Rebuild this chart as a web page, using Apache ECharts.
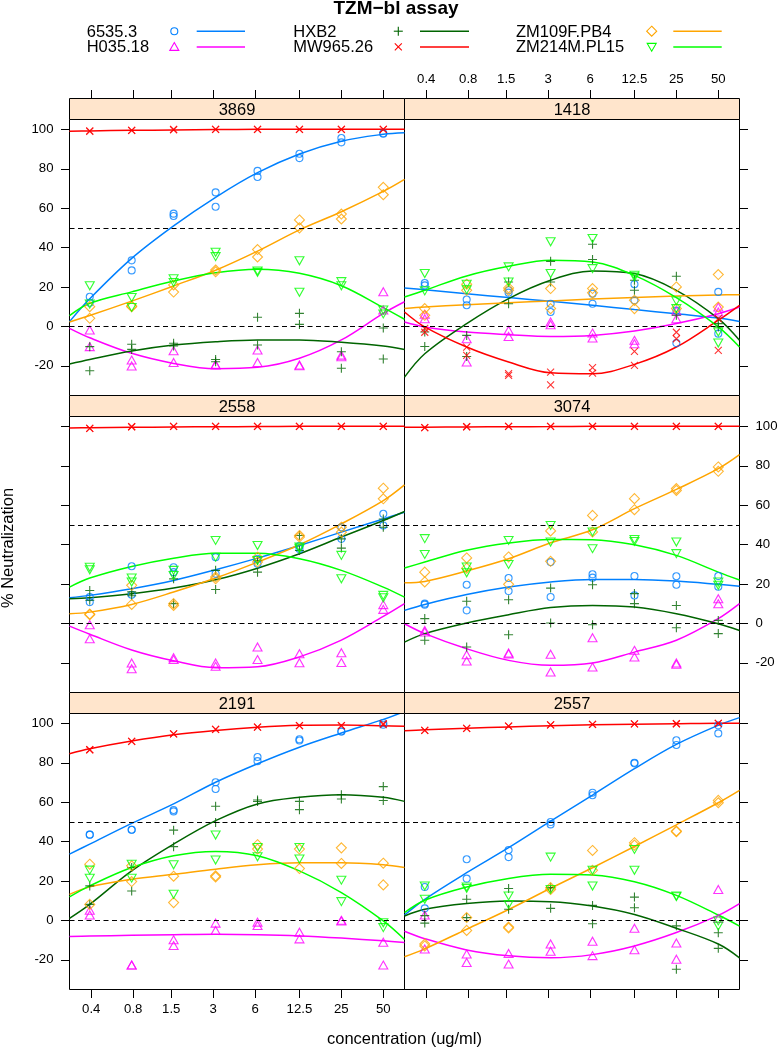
<!DOCTYPE html>
<html><head><meta charset="utf-8">
<script src="https://cdn.jsdelivr.net/npm/echarts@6/dist/echarts.min.js"></script>
<style>html,body{margin:0;padding:0;background:#fff}#c{width:779px;height:1048px}</style>
</head><body><div id="c"></div>
<script>
// ---------------- data ----------------
const viruses = ['6535.3', 'H035.18', 'HXB2', 'MW965.26', 'ZM109F.PB4', 'ZM214M.PL15'];
const panels = ['3869', '1418', '2558', '3074', '2191', '2557'];
const conc = [0.39, 0.78, 1.56, 3.125, 6.25, 12.5, 25, 50];
const fitConc = [0.279, 0.39, 0.78, 1.56, 3.125, 6.25, 12.5, 25, 50, 71];
const xTicks = [0.4, 0.8, 1.5, 3, 6, 12.5, 25, 50];
const yTicks = [-20, 0, 20, 40, 60, 80, 100];
const refLines = [0, 50];

// observed % neutralization: one row per virus (order of `viruses`), replicate pairs per concentration
const obs3869 = [
  [[15,12],[33.5,28.4],[57.2,56],[68,60.7],[78.9,75.8],[87.6,85.4],[95.6,93.4],[97.8,98]],
  [[-1.9,-10.3],[-17.1,-20.1],[-12.4,-18.3],[-19.3,-19.6],[-12,-18.3],[-19.6,-20],[-14.6,-15.4],[17.6,8.3]],
  [[-10.3,-22.5],[-9.1,-11.7],[-8.6,-10],[-16.8,-18],[4.6,-9.5],[6.6,1],[-12.9,-21.3],[-0.8,-16.6]],
  [[99.2,99],[99.5,99.5],[99.8,100],[100,100],[100,100],[100,100],[100,100],[100,100]],
  [[4.1,10],[10.3,10],[21,17.4],[28.6,27.7],[39,35.2],[54,50],[57,54.5],[70.6,66.8]],
  [[20.6,11.3],[14.6,9.6],[24.2,22.3],[37.6,35.4],[28.1,27.4],[33.3,17.3],[22.7,20.6],[8.3,6.3]]
];
const obs1418 = [
  [[22,20.8],[13.6,10.7],[18.3,17.1],[11.5,7.3],[16.6,11.5],[21.4,13.2],[8,-8.5],[17.5,-3.7]],
  [[6.1,3.9],[-6.3,-18.1],[-2,-5.1],[2.2,0.8],[-3.4,-5.9],[-7.1,-8.8],[7.8,3.9],[9.8,7.3]],
  [[-2.9,-10.2],[-4.6,-15.3],[22.5,11.5],[33,22.5],[41.7,33.9],[23.4,18.3],[25.4,5.6],[1.4,-0.3]],
  [[-1,-3],[-10.5,-14.7],[-24,-24.9],[-23.2,-29.7],[-21,-23.7],[-12.7,-19.8],[-3,-6.3],[3.9,-12.2]],
  [[9,5.6],[21.4,18.3],[19.5,18.3],[19.2,9],[19.2,17],[13.2,9],[20,9],[26.3,9.8]],
  [[26.8,18],[21.4,18.6],[30.2,22.5],[42.9,26.8],[44.6,29.3],[25.9,25.1],[12.9,9],[-2.9,-8.5]]
];
const obs2558 = [
  [[13.3,10.8],[29,14.5],[28.5,26],[33.6,25.2],[32.8,30.2],[39.2,37.8],[48.8,42.9],[55.6,49.7]],
  [[-0.7,-7.8],[-20.1,-23],[-17.4,-18.4],[-20.1,-21.8],[-12,-18.4],[-15.4,-20],[-14.9,-19.9],[9.5,7.1]],
  [[16.7,11.7],[16,14],[22.6,10],[26.9,17.2],[31.9,26],[44.6,37],[42.9,38.2],[53,48.8]],
  [[99,99],[99.8,99.8],[100,100],[100,100],[100,100],[100,100],[100,100],[100,100]],
  [[4.7,4.4],[19.3,9.6],[10,9.1],[23.5,22.6],[33.6,31.1],[44.6,43.8],[48.8,46.3],[68.6,63.2]],
  [[28.5,27.2],[23,21],[26.9,24.3],[42.1,33.6],[39.5,31.9],[38.7,37.8],[34.5,22.6],[14.2,13]]
];
const obs3074 = [
  [[10,9.5],[19.6,6.6],[23,16.4],[31.1,13.4],[24.9,23.2],[24,14.2],[23.9,19.6],[24,18.6]],
  [[-3.6,-4.4],[-15.9,-19.1],[-15,-15.5],[-15.7,-24.7],[-7.3,-22.2],[-13.7,-17.1],[-20.1,-20.8],[12.5,10]],
  [[2.4,-8.6],[11.2,-12],[12,-5.8],[17.9,0.2],[19.6,-0.7],[15.1,10],[9.1,-2.2],[1.5,-5.2]],
  [[99.3,99.3],[99.8,99.8],[100,100],[100,100],[100,100],[100,100],[100,100],[100,100]],
  [[26,21],[33.2,28],[33.7,19.8],[46.9,31.5],[54.8,46.4],[63.3,57.7],[68.4,67.5],[79.4,77.2]],
  [[43,35],[28.6,25.7],[42.1,29.9],[49.7,41.3],[46.4,37.9],[42.6,41.6],[41.3,35.4],[21,19.3]]
];
const obs2191 = [
  [[43.5,43.5],[46,46],[56,55.3],[70.1,66.7],[82.9,80.8],[91.9,91.3],[95.9,95.9],[100.2,99.3]],
  [[5.1,2.7],[-22.7,-22.7],[-9.9,-12.8],[-1.4,-5.1],[-0.9,-2.6],[-6,-9.4],[0,-0.3],[-11.1,-22.7]],
  [[8.1,17.5],[14.9,26.8],[45.8,37.4],[57.9,49.7],[61.1,60.3],[60.4,56.2],[63.8,61.6],[67.9,60.8]],
  [[86.6,86.6],[90.8,90.8],[94.7,94.7],[96.9,96.9],[98.1,98.1],[98.8,98.8],[98.8,98.8],[99.8,99.3]],
  [[28.5,8.1],[27.7,19.7],[22.4,9],[22.6,22],[38.4,36.2],[36.2,26.3],[36.8,28.9],[29,18]],
  [[25.5,21.4],[28.5,21.4],[28.2,13.2],[43.3,30.6],[37,32.3],[37,31.1],[20.4,9.5],[-1.2,-3.7]]
];
const obs2557 = [
  [[16.9,6.1],[31,21.2],[35.7,32.1],[49.9,48.7],[64.8,63.5],[80,79.7],[91.4,89],[94.9,99]],
  [[2.7,-14.5],[-17.1,-21.4],[-16.8,-22.2],[-12,-15.7],[-10.6,-17.9],[-4,-14.9],[-11.5,-19.7],[15.7,0.9]],
  [[2.4,-1.4],[10.7,1.4],[16.2,5.6],[16.6,6.1],[7.6,-1.7],[11.8,6.4],[-2.8,-24.8],[-6.3,-14.2]],
  [[96.4,96.4],[97.5,97.5],[98.6,98.6],[99.2,99.2],[99.5,99.5],[99.7,99.7],[99.8,99.8],[100,100]],
  [[-12,-13],[1.4,-5.1],[-3.4,-3.9],[16.6,15.7],[35.5,25.4],[39.4,38.2],[45.3,45],[60.9,59.7]],
  [[17.4,10.7],[16.9,16.2],[12.4,8.1],[32.1,15.7],[25.4,17.4],[36,25.4],[12.4,12],[-0.3,-2.9]]
];

// fitted curves read at fitConc: one row per virus
const fit3869 = [
  [2.4,14,34.5,51,65.5,78,87.5,94,97.5,98.3],
  [-1,-5.8,-13.7,-18.8,-21.5,-20.8,-16.2,-6.9,6.6,12.5],
  [-19.1,-16.8,-12.5,-9.5,-7.8,-6.9,-6.9,-8.1,-10,-11.7],
  [99,99.2,99.5,99.7,99.9,100,100,100,100,100],
  [2.2,5.5,12.8,20.5,28.5,38.2,49,58.2,68.5,74.6],
  [5.4,11.7,17.5,23,27.2,29,26.9,20.6,9.5,3.6]
];
const fit1418 = [
  [19.5,18.6,16.6,14.6,12.7,10.7,8.5,6.4,4.2,2.5],
  [2.2,-0.3,-2.9,-4.2,-5.1,-4.6,-2.4,1.4,6.4,9.8],
  [-25.8,-13.9,1.4,14.1,23.4,28.1,26.8,18.3,3.9,-7.1],
  [7.3,-0.3,-10.5,-18.1,-23.6,-24.1,-19.3,-10.5,3.1,10.7],
  [9,9.8,11,12,12.9,13.9,14.7,15.4,15.9,16.1],
  [14.9,18.3,25.6,30.5,33.6,32.7,25.9,14.6,-0.3,-10.5]
];
const fit2558 = [
  [13,14.2,17.6,21.8,27.2,33.1,39.5,46.3,53,56.4],
  [-1.4,-5.5,-13.5,-19,-22.5,-22,-17,-8.5,3.5,10],
  [12.5,13,15,17.9,22.1,28,35.3,43.8,52.2,56.8],
  [99.2,99.3,99.5,99.7,99.8,99.9,100,100,100,100],
  [4.9,5.7,9.6,15.9,23,31.1,39.9,50.5,62.3,70.3],
  [18.4,23,28.9,33.1,35.6,35.6,32.8,26.9,18.4,13.3]
];
const fit3074 = [
  [6.6,9.6,14.6,18.4,21,22.3,22.3,21.5,19.8,18.8],
  [-0.2,-5.2,-12.9,-18.8,-21.3,-20.1,-14.6,-8.6,2.4,10],
  [-9.5,-5.2,0.2,4.4,8,9.1,8.3,4.9,-0.2,-3.6],
  [99.5,99.6,99.7,99.8,99.9,100,100,100,100,100],
  [20.6,21.3,26.6,32.8,40.9,47.5,58.2,68,78.5,85.6],
  [28.1,31.1,37.1,40.8,42.6,42.5,39.9,34.5,26,22]
];
const fit2191 = [
  [33.6,38.7,49.2,59.1,70.1,79.5,87.9,95.1,102,106],
  [-8.2,-8,-7.6,-7.3,-7.1,-7.3,-7.9,-9,-10.4,-11.2],
  [1,8.1,25.1,38.7,50.6,59.1,62.5,63.8,62.5,60.4],
  [84.6,87.1,91,94.2,96.4,98,99,99.2,98.8,98.5],
  [13.2,17,20.9,23.4,26,28.2,29.2,29.2,28.2,26.8],
  [11.9,17.5,26.8,32.8,35,32.8,25.1,14.1,-0.3,-9.7]
];
const fit2557 = [
  [2.7,10.7,24.2,36.9,50.4,63.6,77,89.3,99,102.9],
  [-5.5,-9.3,-15,-18,-19,-17.4,-13,-6.2,2.5,8.5],
  [2.2,5.6,8.5,9.8,9.5,7.3,3,-4,-12,-19],
  [96.3,96.8,97.5,98.2,98.8,99.3,99.6,99.8,100,100],
  [-18.5,-14.5,-4.5,5.5,16.3,26.7,37.5,48.5,59.7,66],
  [3.9,10.2,16.9,21.3,23.4,23,19.6,12.7,2.7,-2.9]
];

const panelObs = [obs3869, obs1418, obs2558, obs3074, obs2191, obs2557];
const panelFit = [fit3869, fit1418, fit2558, fit3074, fit2191, fit2557];

// ---------------- style / layout ----------------
const FONT = '"Liberation Sans", Arial, Helvetica, sans-serif';
const colors = ['#0080ff', '#ff00ff', '#006400', '#ff0000', '#ffa500', '#00ff00'];
const symbols = [
  'circle',
  'path://M5,0L10,8.66L0,8.66Z',
  'path://M5,0L5,10M0,5L10,5',
  'path://M0,0L10,10M0,10L10,0',
  'path://M5,0L10,5L5,10L0,5Z',
  'path://M0,0L10,0L5,8.66Z'
];
const symSizes = [7, [9, 8], 9, 7, 10, [9, 8]];
const colLeft = [69.5, 404.5], colW = 335;
const rowTop = [98.5, 395.5, 692.5], stripH = 21, panelH = 276;
const xMin = 0.279, xMax = 71, yMin = -35.1, yMax = 105;

const grids = [], xAxes = [], yAxes = [], series = [], graphics = [];

panels.forEach((name, k) => {
  const r = Math.floor(k / 2), c = k % 2;
  const left = colLeft[c], top = rowTop[r] + stripH;
  grids.push({left: left, top: top, width: colW, height: panelH, show: true,
    borderColor: '#000', borderWidth: 1, backgroundColor: 'transparent',
    containLabel: false, outerBoundsMode: 'none'});
  const xLabels = (r === 0 && c === 1) || (r === 2 && c === 0);
  xAxes.push({gridIndex: k, type: 'log', logBase: 2, min: xMin, max: xMax,
    show: r !== 1, position: r === 0 ? 'top' : 'bottom', offset: r === 0 ? stripH : 0,
    axisLine: {show: false, onZero: false}, splitLine: {show: false}, minorTick: {show: false},
    axisTick: {show: true, inside: false, length: 8.5, customValues: xTicks, lineStyle: {color: '#000', width: 1}},
    axisLabel: {show: xLabels, customValues: xTicks, margin: 13, fontSize: 13.2, fontFamily: FONT, color: '#000',
      formatter: v => String(Math.round(v * 10) / 10)}
  });
  const yLabels = r === 1 ? c === 1 : c === 0;
  yAxes.push({gridIndex: k, type: 'value', min: yMin, max: yMax,
    position: c === 0 ? 'left' : 'right',
    axisLine: {show: false, onZero: false}, splitLine: {show: false},
    axisTick: {show: true, inside: false, length: 8.5, customValues: yTicks, lineStyle: {color: '#000', width: 1}},
    axisLabel: {show: yLabels, customValues: yTicks, margin: 16, fontSize: 13.2, fontFamily: FONT, color: '#000'}
  });
  // strip
  graphics.push({type: 'rect', shape: {x: left, y: rowTop[r], width: colW, height: stripH},
    style: {fill: '#ffe5cc', stroke: '#000', lineWidth: 1}, z: 5});
  graphics.push({type: 'text', x: left + colW / 2, y: rowTop[r] + stripH / 2 + 1,
    style: {text: name, fontSize: 16.5, fontFamily: FONT, fill: '#000', align: 'center', verticalAlign: 'middle'}, z: 6});
  // reference lines
  series.push({type: 'line', xAxisIndex: k, yAxisIndex: k, data: [], silent: true, z: 1,
    markLine: {silent: true, symbol: ['none', 'none'], label: {show: false}, animation: false,
      lineStyle: {type: [5, 3.5], color: '#000', width: 1},
      data: refLines.map(v => ({yAxis: v}))}});
  viruses.forEach((vname, v) => {
    const pts = [];
    panelObs[k][v].forEach((pair, i) => pair.forEach(y => pts.push([conc[i], y])));
    series.push({type: 'scatter', name: vname, xAxisIndex: k, yAxisIndex: k, data: pts,
      symbol: symbols[v], symbolSize: symSizes[v], silent: true, z: 3,
      itemStyle: {color: 'rgba(0,0,0,0)', borderColor: colors[v], borderWidth: 1.1}});
    series.push({type: 'line', name: vname, xAxisIndex: k, yAxisIndex: k,
      data: panelFit[k][v].map((y, j) => [fitConc[j], y]),
      smooth: 0.35, showSymbol: false, silent: true, z: 2, clip: true,
      lineStyle: {color: colors[v], width: 1.5}});
  });
});

// ---------------- title, legend, axis titles ----------------
graphics.push({type: 'text', x: 396, y: 9, style: {text: 'TZM\u2212bl assay', fontSize: 19, fontWeight: 'bold',
  fontFamily: FONT, fill: '#000', align: 'center', verticalAlign: 'middle'}});
const legCols = [{t: 86.7, s: 174.3, l1: 196.7, l2: 245}, {t: 293.3, s: 398.3, l1: 420, l2: 469},
                 {t: 516, s: 651.7, l1: 673.3, l2: 721.7}];
const legRows = [31.2, 46.9];
function legendSymbol(v, cx, cy) {
  const st = {fill: 'none', stroke: colors[v], lineWidth: 1.1};
  if (v === 0) return [{type: 'circle', shape: {cx: cx, cy: cy, r: 3.5}, style: st}];
  if (v === 1) return [{type: 'polygon', shape: {points: [[cx, cy - 4.3], [cx + 4.5, cy + 3.5], [cx - 4.5, cy + 3.5]]}, style: st}];
  if (v === 2) return [{type: 'line', shape: {x1: cx - 4.5, y1: cy, x2: cx + 4.5, y2: cy}, style: st},
                       {type: 'line', shape: {x1: cx, y1: cy - 4.5, x2: cx, y2: cy + 4.5}, style: st}];
  if (v === 3) return [{type: 'line', shape: {x1: cx - 3.5, y1: cy - 3.5, x2: cx + 3.5, y2: cy + 3.5}, style: st},
                       {type: 'line', shape: {x1: cx - 3.5, y1: cy + 3.5, x2: cx + 3.5, y2: cy - 3.5}, style: st}];
  if (v === 4) return [{type: 'polygon', shape: {points: [[cx, cy - 5], [cx + 5, cy], [cx, cy + 5], [cx - 5, cy]]}, style: st}];
  return [{type: 'polygon', shape: {points: [[cx - 4.5, cy - 3.5], [cx + 4.5, cy - 3.5], [cx, cy + 4.3]]}, style: st}];
}
viruses.forEach((vname, v) => {
  const col = legCols[Math.floor(v / 2)], cy = legRows[v % 2];
  graphics.push({type: 'text', x: col.t, y: cy + 0.8, style: {text: vname, fontSize: 16.5, fontFamily: FONT,
    fill: '#000', align: 'left', verticalAlign: 'middle'}});
  legendSymbol(v, col.s, cy).forEach(e => graphics.push(e));
  graphics.push({type: 'line', shape: {x1: col.l1, y1: cy, x2: col.l2, y2: cy},
    style: {stroke: colors[v], lineWidth: 1.5}});
});
graphics.push({type: 'text', x: 8, y: 548, rotation: Math.PI / 2,
  style: {text: '% Neutralization', fontSize: 16.5, fontFamily: FONT, fill: '#000', align: 'center', verticalAlign: 'middle'}});
graphics.push({type: 'text', x: 404.5, y: 1039.5,
  style: {text: 'concentration (ug/ml)', fontSize: 16.5, fontFamily: FONT, fill: '#000', align: 'center', verticalAlign: 'middle'}});

const chart = echarts.init(document.getElementById('c'), null, {renderer: 'canvas'});
chart.setOption({
  animation: false,
  backgroundColor: '#fff',
  grid: grids, xAxis: xAxes, yAxis: yAxes, series: series,
  graphic: {elements: graphics}
});
</script>
</body></html>
